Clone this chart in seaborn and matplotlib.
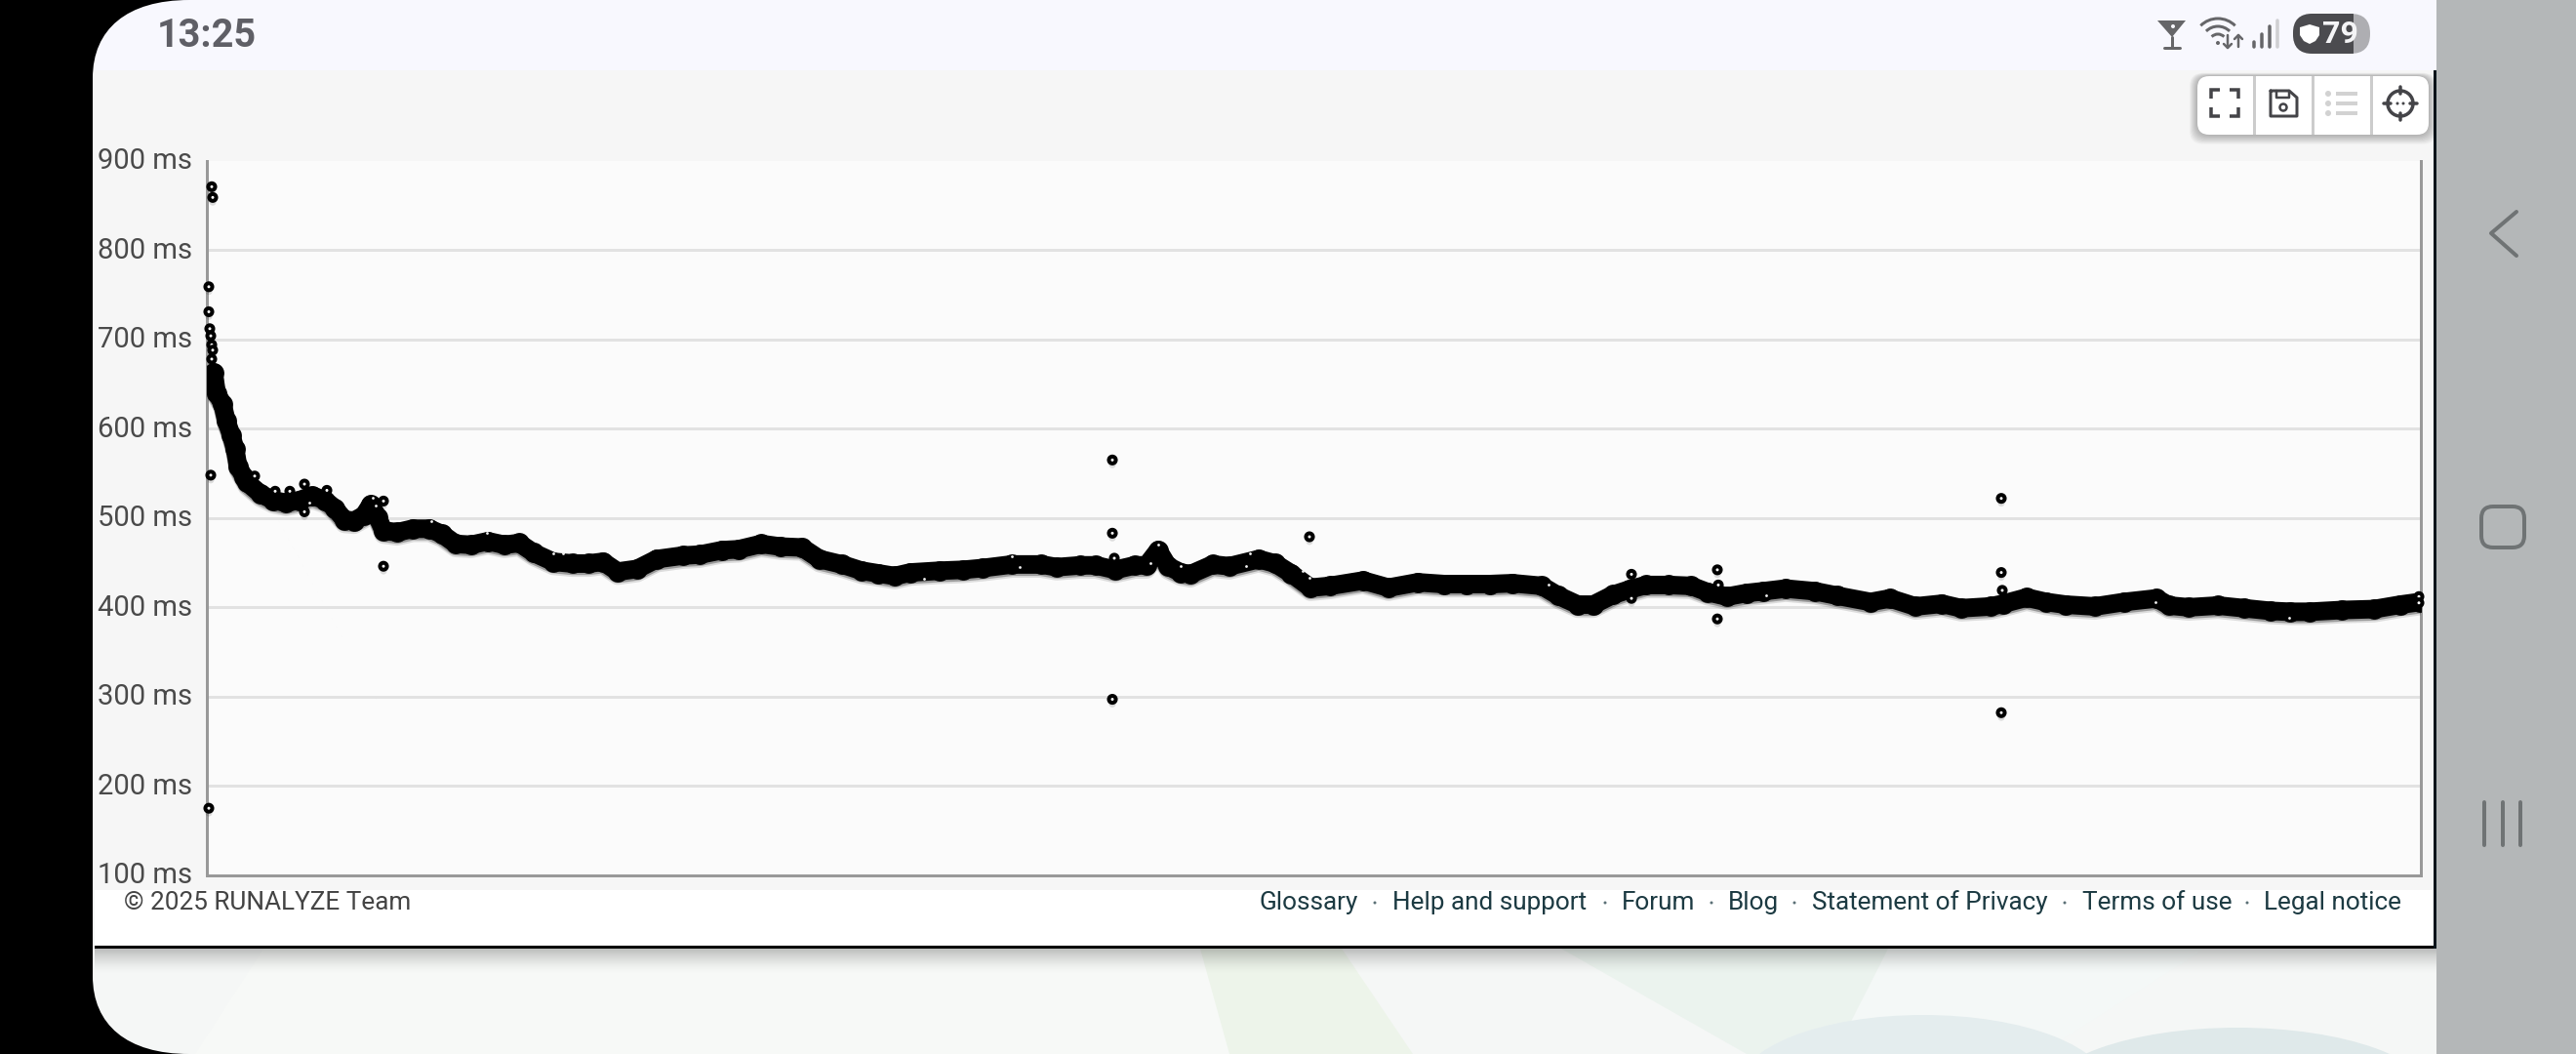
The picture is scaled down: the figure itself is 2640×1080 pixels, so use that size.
import matplotlib
matplotlib.use("Agg")
import matplotlib.pyplot as plt
import matplotlib.patheffects as pe
from matplotlib.patches import Rectangle, FancyBboxPatch, Circle, Ellipse, Polygon, PathPatch, Arc
from matplotlib.path import Path
from matplotlib.transforms import ScaledTranslation
import seaborn as sns

# main band of the chart, x is position along the activity, y in ms
trace_x = [7, 10, 16, 20, 25, 29, 32, 38, 41, 55, 68, 81, 95, 108, 121, 131, 141, 151, 161, 168, 175, 181,
           195, 211, 228, 241, 255, 271, 288, 305, 320, 335, 355, 375, 391, 406, 421, 441, 461, 488, 505,
           528, 545, 568, 588, 610, 628, 651, 671, 688, 705, 721, 751, 775, 795, 825, 855, 871, 895, 911,
           931, 951, 963, 975, 985, 998, 1008, 1031, 1048, 1078, 1095, 1111, 1131, 1151, 1185, 1211, 1241,
           1268, 1291, 1315, 1338, 1368, 1385, 1405, 1421, 1441, 1458, 1475, 1498, 1521, 1538, 1558, 1578,
           1595, 1618, 1648, 1671, 1705, 1725, 1751, 1778, 1798, 1828, 1841, 1865, 1885, 1905, 1935, 1965,
           1998, 2011, 2031, 2061, 2088, 2115, 2135, 2155, 2188, 2221, 2248, 2268]
trace_y = [663, 640, 628, 609, 593, 577, 558, 546, 540, 527, 520, 517, 520, 525, 520, 511, 498, 497, 503, 515, 501, 486,
           484, 488, 488, 482, 471, 470, 474, 470, 472, 461, 451, 449, 449, 451, 440, 443, 454, 458, 459,
           464, 465, 471, 468, 467, 454, 448, 441, 438, 435, 439, 441, 442, 444, 448, 448, 445, 447, 447,
           442, 447, 447, 464, 446, 439, 437, 448, 446, 454, 449, 438, 422, 424, 430, 422, 428,
           426, 426, 426, 427, 424, 413, 403, 403, 414, 420, 425, 425, 424, 417, 412, 416,
           418, 421, 418, 413, 406, 410, 401, 404, 399, 401, 404, 411, 406, 403, 401, 406,
           410, 402, 400, 402, 399, 396, 395, 395, 397, 398, 403, 406]

# single points away from the band
outlier_x = [5, 6, 2, 2, 3, 4, 5, 6, 5, 4, 2, 49, 100, 100, 123, 181, 85, 70, 181,
             928, 928, 930, 928, 1130, 1460, 1460, 1548, 1549, 1548, 1839, 1839, 1840, 1839, 2267, 2267]
outlier_y = [871, 859, 759, 731, 712, 704, 694, 688, 678, 548, 175, 547, 538, 507, 531, 519, 530, 530, 446,
             565, 483, 455, 297, 479, 437, 410, 442, 425, 387, 522, 439, 419, 282, 412, 405]

# tiny light specks left where the rings of the band do not overlap
speck_x = [170, 173, 105, 230, 287, 355, 365, 735, 967, 998, 975, 825, 833, 1065, 1069, 1130, 1123, 1375, 1598, 1997, 2134]
speck_y = [523, 514, 517, 497, 483, 460, 460, 432, 450, 446, 470, 457, 445, 446, 460, 433, 441, 425, 413, 406, 388]

y_ticks = [100, 200, 300, 400, 500, 600, 700, 800, 900]
y_labels = ["100 ms", "200 ms", "300 ms", "400 ms", "500 ms", "600 ms", "700 ms", "800 ms", "900 ms"]

footer_links = ["Glossary", "Help and support", "Forum", "Blog", "Statement of Privacy", "Terms of use", "Legal notice"]
footer_link_x = [1290, 1427, 1662, 1771, 1857, 2134, 2320]
footer_dot_x = [1409, 1645, 1754, 1839, 2116, 2303]

PX = 0.72  # one pixel in points at dpi 100
W, H = 2640, 1080

sns.set_theme(style="white")
plt.rcParams["font.family"] = ["Roboto", "DejaVu Sans"]

fig = plt.figure(figsize=(W / 100, H / 100), dpi=100, facecolor="black")

# whole screen in pixel coordinates, for everything around the chart
bg = fig.add_axes([0, 0, 1, 1])
bg.set_xlim(0, W)
bg.set_ylim(H, 0)
bg.axis("off")

def rect(x0, y0, x1, y1, color, z=1, alpha=None):
    bg.add_patch(Rectangle((x0, y0), x1 - x0, y1 - y0, fc=color, ec="none", zorder=z, alpha=alpha))

def seg(xs, ys, color="#444448", lw=3, z=6):
    bg.plot(xs, ys, color=color, lw=lw * PX, solid_capstyle="round", solid_joinstyle="round", zorder=z)

# page and nav bar
rect(95, 0, 2497, H, "#f5f7f6")
rect(2497, 0, W, H, "#b4b7b8")

# pale shapes of the page background
bg.add_patch(Polygon([[200, 1080], [270, 972], [1375, 972], [1448, 1080]], fc="#f7f9f7", ec="none", zorder=1.05))
bg.add_patch(Polygon([[1230, 972], [1375, 972], [1448, 1080], [1260, 1080]], fc="#edf4ea", ec="none", zorder=1.1))
bg.add_patch(Polygon([[1600, 972], [1935, 972], [1880, 1080], [1790, 1080]], fc="#ebf3ee", ec="none", zorder=1.2))
bg.add_patch(Polygon([[1935, 972], [2260, 972], [2090, 1080], [1880, 1080]], fc="#f4f8f7", ec="none", zorder=1.05))
bg.add_patch(Ellipse((1971, 1115), 380, 150, fc="#e4edee", ec="none", zorder=1.3))
bg.add_patch(Ellipse((2293, 1125), 400, 144, fc="#dfe9ea", ec="none", zorder=1.4))

# status bar, toolbar strip, footer
rect(95, 0, 2497, 72, "#f8f8fe", z=2)
rect(95, 72, 2494, 912, "#f6f6f6", z=2)
rect(97, 912, 2494, 969, "#ffffff", z=2)
rect(97, 969, 2496, 972, "#000000", z=3)
rect(2494, 72, 2497, 972, "#06141a", z=3)
for i in range(26):
    rect(97, 972 + i, 2497, 973 + i, "#000000", z=2, alpha=0.24 * (1 - i / 26) ** 1.6)

# rounded screen corners
for cy, sign in [(0, 1), (H, -1)]:
    verts = [(95, cy), (194, cy), (130, cy), (95, cy + sign * 30), (95, cy + sign * 80), (95, cy)]
    codes = [Path.MOVETO, Path.LINETO, Path.CURVE4, Path.CURVE4, Path.CURVE4, Path.CLOSEPOLY]
    bg.add_patch(PathPatch(Path(verts, codes), fc="black", ec="none", zorder=8))

bg.text(161, 37, "13:25", fontsize=28.5, fontweight="bold", color="#5f5f66", va="center", ha="left", zorder=6)

# status icons
bg.add_patch(Polygon([[2211, 21], [2240, 21], [2226, 38]], fc="#666669", ec="none", zorder=6))
bg.add_patch(Circle((2227, 27), 2, fc="#f8f8fe", ec="none", zorder=7))
seg([2226, 2226], [38, 48], "#666669", 3)
seg([2218, 2234], [48.5, 48.5], "#666669", 3)
for r in [9, 17, 25]:
    bg.add_patch(Arc((2273, 44), 2 * r, 2 * r, theta1=225, theta2=315, ec="#666669", lw=3 * PX, zorder=6))
bg.add_patch(Circle((2273, 44), 2, fc="#666669", ec="none", zorder=6))
seg([2283, 2283], [36, 49], "#666669", 2.5)
seg([2279, 2283, 2287], [45, 49, 45], "#666669", 2.5)
seg([2294, 2294], [36, 48], "#666669", 2.5)
seg([2290, 2294, 2298], [40, 36, 40], "#666669", 2.5)
for bx, top, col in [(2310, 43, "#666669"), (2318, 35, "#666669"), (2326, 27, "#666669"), (2334, 21, "#cfcfd2")]:
    seg([bx, bx], [top, 48], col, 3.5)

pill = FancyBboxPatch((2350, 14), 79, 41, boxstyle="round,pad=0,rounding_size=20", fc="#aeaeb2", ec="none", zorder=6)
bg.add_patch(pill)
dark = FancyBboxPatch((2350, 14), 79, 41, boxstyle="round,pad=0,rounding_size=20", fc="#4b4b4f", ec="none", zorder=6.1)
bg.add_patch(dark)
dark.set_clip_path(Rectangle((2350, 14), 62, 41, transform=bg.transData))
bg.add_patch(Polygon([[2357, 28], [2367, 25], [2377, 28], [2377, 36], [2373, 42], [2367, 45], [2361, 42], [2357, 36]],
                     fc="white", ec="none", zorder=7))
bg.text(2398, 35, "79", fontsize=23, fontweight="bold", color="#f4f4f6", va="center", ha="center", zorder=7)

# chart toolbar
for i in range(8, 0, -1):
    bg.add_patch(FancyBboxPatch((2252 - i, 78 - i * 0.4), 237 + 2 * i, 60 + i * 1.6, boxstyle="round,pad=0,rounding_size=14",
                                fc="black", ec="none", alpha=0.035, zorder=3))
bg.add_patch(FancyBboxPatch((2252, 78), 237, 60, boxstyle="round,pad=0,rounding_size=12", fc="white", ec="none", zorder=4))
for sx in [2310, 2370, 2430]:
    rect(sx - 1.5, 78, sx + 1.5, 138, "#cccccc", z=5)

for xs, ys in [([2266, 2266, 2275], [101, 92, 92]), ([2285, 2294, 2294], [92, 92, 101]),
               ([2266, 2266, 2275], [110, 119, 119]), ([2285, 2294, 2294], [119, 119, 110])]:
    bg.plot(xs, ys, color="#444448", lw=3.5 * PX, solid_joinstyle="miter", solid_capstyle="butt", zorder=6)
seg([2327, 2327, 2354, 2354, 2346, 2327], [93, 119, 119, 100, 93, 93], "#444448", 3)
seg([2333, 2333, 2346, 2346], [93, 100, 100, 93], "#444448", 2.5)
bg.add_patch(Circle((2340, 110), 3.5, fc="none", ec="#444448", lw=2.5 * PX, zorder=6))
for ly in [96, 106, 116]:
    bg.add_patch(Circle((2386, ly), 3, fc="#d2d2d2", ec="none", zorder=6))
    rect(2394, ly - 2, 2416, ly + 2, "#d2d2d2", z=6)
bg.add_patch(Circle((2460, 106), 13, fc="none", ec="#444448", lw=3.5 * PX, zorder=6))
seg([2460, 2460], [89, 96], "#444448", 3.5)
seg([2460, 2460], [116, 123], "#444448", 3.5)
seg([2443, 2450], [106, 106], "#444448", 3.5)
seg([2470, 2477], [106, 106], "#444448", 3.5)
for dx in [2457, 2463]:
    bg.add_patch(Circle((dx, 106), 1.5, fc="#444448", ec="none", zorder=6))

# footer
bg.text(127, 925, "\u00a9 2025 RUNALYZE Team", fontsize=18.8, color="#444444", va="center", ha="left", zorder=6)
for label, lx in zip(footer_links, footer_link_x):
    bg.text(lx, 925, label, fontsize=18.8, color="#1c3a42", va="center", ha="left", zorder=6)
for dx in footer_dot_x:
    bg.add_patch(Circle((dx, 925), 1.5, fc="#5b7076", ec="none", zorder=6))

# nav bar buttons
seg([2579, 2553, 2579], [217, 239, 262], "#6f7374", 4)
bg.add_patch(FancyBboxPatch((2543, 519), 44, 42, boxstyle="round,pad=0,rounding_size=12", fc="none", ec="#6f7374", lw=4 * PX, zorder=6))
for nx in [2546, 2565, 2583]:
    seg([nx, nx], [822, 866], "#6f7374", 4)

# the chart itself
left, right, top, bottom = 212, 2481, 164.8, 896.8
ax = fig.add_axes([left / W, 1 - bottom / H, (right - left) / W, (bottom - top) / H], facecolor="#fbfbfb")
ax.set_xlim(0, right - left)
ax.set_ylim(100, 900)
ax.set_yticks(y_ticks)
ax.set_yticklabels(y_labels, fontsize=21, color="#4a4a4a")
ax.set_xticks([])
ax.tick_params(axis="y", length=0, pad=11)
for label in ax.get_yticklabels():
    label.set_transform(label.get_transform() + ScaledTranslation(0, 2.5 / 100, fig.dpi_scale_trans))
for name in ["left", "bottom", "right"]:
    ax.spines[name].set_visible(True)
    ax.spines[name].set_color("#999999")
    ax.spines[name].set_linewidth(3 * PX)
ax.spines["top"].set_visible(False)
for tick in y_ticks[1:-1]:
    ax.axhline(tick, color="#e2e2e2", lw=3 * PX, zorder=1)

line_shadow = [pe.SimpleLineShadow(offset=(0, -3.0), shadow_color="black", alpha=0.12),
               pe.SimpleLineShadow(offset=(0, -1.6), shadow_color="black", alpha=0.3), pe.Normal()]
sns.lineplot(x=trace_x, y=trace_y, ax=ax, color="black", lw=19 * PX, sort=False, zorder=3,
             solid_capstyle="round", solid_joinstyle="round", path_effects=line_shadow, estimator=None)
sns.scatterplot(x=trace_x, y=trace_y, ax=ax, color="black", s=225, linewidth=0, zorder=4, legend=False)
sns.scatterplot(x=speck_x, y=speck_y, ax=ax, color="#f2f2f2", s=4, linewidth=0, zorder=6, legend=False)

rings = sns.scatterplot(x=outlier_x, y=outlier_y, ax=ax, color="white", edgecolor="black", s=26,
                        linewidth=4 * PX, zorder=5, legend=False, clip_on=False)
rings.collections[-1].set_path_effects([
    pe.SimplePatchShadow(offset=(0, -3.5), shadow_rgbFace="#000000", alpha=0.12), pe.Normal()])

ax.set_xlabel("")
ax.set_ylabel("")
fig.savefig("out.png", dpi=100, facecolor="black")
